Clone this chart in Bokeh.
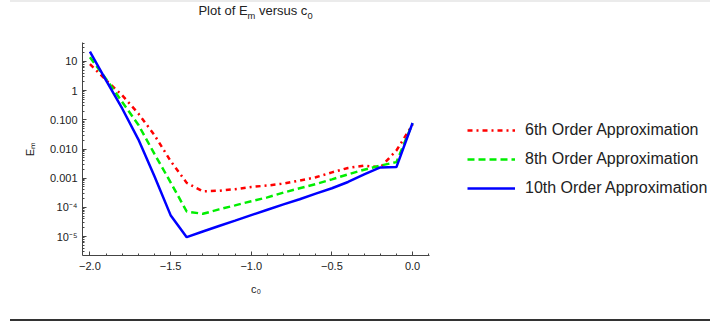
from bokeh.plotting import figure
from bokeh.layouts import column, row
from bokeh.models import (FixedTicker, CustomJSTickFormatter, Legend, LegendItem,
                          Range1d, Div)
from bokeh.embed import file_html
from bokeh.resources import INLINE

# ---- data ----
c0 = [-2.0, -1.9, -1.8, -1.7, -1.6, -1.5, -1.4, -1.3, -1.2, -1.1, -1.0,
      -0.9, -0.8, -0.7, -0.6, -0.5, -0.4, -0.3, -0.2, -0.1, 0.0]
em_6th = [8.1, 2.3, 0.69, 0.166, 0.030, 3.9e-3, 6.9e-4, 3.55e-4, 3.7e-4, 4.2e-4, 5.0e-4,
          5.6e-4, 6.5e-4, 8.3e-4, 1.07e-3, 1.58e-3, 2.24e-3, 2.7e-3, 2.34e-3, 8.9e-3, 0.069]
em_8th = [14.1, 2.5, 0.41, 0.068, 6.8e-3, 7.2e-4, 7.2e-5, 6.0e-5, 8.5e-5, 1.17e-4, 1.62e-4,
          2.2e-4, 3.2e-4, 4.5e-4, 6.3e-4, 9.1e-4, 1.35e-3, 1.95e-3, 2.7e-3, 3.55e-3, 0.076]
em_10th = [21.9, 2.24, 0.245, 0.0214, 1.17e-3, 5.4e-5, 9.5e-6, 1.48e-5, 2.3e-5, 3.5e-5, 5.4e-5,
           8.3e-5, 1.26e-4, 1.9e-4, 2.95e-4, 4.5e-4, 7.4e-4, 1.35e-3, 2.34e-3, 2.4e-3, 0.078]

series_names = ["6th Order Approximation", "8th Order Approximation", "10th Order Approximation"]
series_colors = ["#ff0000", "#00ee00", "#0000ff"]
series_dashes = ["5 4 2 4", "7 4", "solid"]
x_ticks = [-2.0, -1.5, -1.0, -0.5, 0.0]
x_tick_labels = ["\u22122.0", "\u22121.5", "\u22121.0", "\u22120.5", "0.0"]
y_ticks = [1e-5, 1e-4, 1e-3, 1e-2, 1e-1, 1.0, 10.0]
y_tick_labels = ["10\u207b\u2075", "10\u207b\u2074", "0.001", "0.010", "0.100", "1", "10"]
SUB = '<sub style="font-size:72%;line-height:0">'
title_html = f"Plot of E{SUB}m</sub> versus c{SUB}0</sub>"
x_label = "c\u2080"
y_label = "E\u2098"

FONT = "Liberation Sans"

p = figure(width=440, height=297,
           x_range=Range1d(-2.046, 0.105),
           y_range=Range1d(10 ** -5.651, 10 ** 1.651),
           y_axis_type="log",
           output_backend="svg", toolbar_location=None,
           min_border_left=82, min_border_right=11,
           min_border_top=20, min_border_bottom=64)
p.outline_line_color = None
p.grid.visible = False
p.background_fill_color = "white"
p.border_fill_color = "white"

series = [em_6th, em_8th, em_10th]
for vals, col, dash in zip(series, series_colors, series_dashes):
    p.line(c0, vals, line_color=col, line_width=2.5, line_dash=dash)

# x axis
x_minor = [round(-2.0 + 0.1 * k, 2) for k in range(0, 22)]
p.xaxis.ticker = FixedTicker(ticks=x_ticks, minor_ticks=x_minor)
p.xaxis.formatter = CustomJSTickFormatter(args=dict(tv=x_ticks, tl=x_tick_labels), code="""
for (let i = 0; i < tv.length; i++) { if (Math.abs(tick - tv[i]) < 1e-9) return tl[i]; }
return "";
""")
# y axis
y_minor = [m * 10.0 ** e for e in range(-6, 2) for m in range(1, 10)]
p.yaxis.ticker = FixedTicker(ticks=y_ticks, minor_ticks=y_minor)
p.yaxis.formatter = CustomJSTickFormatter(args=dict(tv=y_ticks, tl=y_tick_labels), code="""
for (let i = 0; i < tv.length; i++) { if (Math.abs(Math.log10(tick) - Math.log10(tv[i])) < 1e-6) return tl[i]; }
return "";
""")

for ax in (p.xaxis, p.yaxis):
    ax.axis_line_color = "#444444"
    ax.major_tick_line_color = "#444444"
    ax.minor_tick_line_color = "#444444"
    ax.major_tick_in = 4
    ax.major_tick_out = 0
    ax.minor_tick_in = 2
    ax.minor_tick_out = 0
    ax.major_label_text_font = FONT
    ax.major_label_text_font_size = "11px"
    ax.major_label_text_color = "#222222"
    ax.axis_label_text_font = FONT
    ax.axis_label_text_font_size = "11px"
    ax.axis_label_text_font_style = "normal"
    ax.axis_label_text_color = "#222222"

p.xaxis.axis_label = x_label
p.yaxis.axis_label = y_label
p.xaxis.major_label_standoff = 6
p.yaxis.major_label_standoff = 5
p.xaxis.axis_label_standoff = 10
p.yaxis.axis_label_standoff = 11

# legend panel (separate canvas to the right of the plot); the proxy lines carry the
# same series but lie outside this canvas's visible ranges, so only their legend shows
pl = figure(width=270, height=297, x_range=Range1d(5, 6), y_range=Range1d(5, 6),
            output_backend="svg", toolbar_location=None,
            x_axis_location=None, y_axis_location=None, min_border=0)
pl.outline_line_color = None
pl.grid.visible = False
items = []
for name, vals, col, dash in zip(series_names, series, series_colors, series_dashes):
    rr = pl.line(c0, vals, line_color=col, line_width=2.5, line_dash=dash)
    items.append(LegendItem(label=name, renderers=[rr]))
legend = Legend(items=items, location=(27, 57), glyph_width=48, glyph_height=20,
                label_height=20, spacing=9, padding=0, margin=0, label_standoff=10,
                border_line_color=None, background_fill_alpha=0,
                label_text_font=FONT, label_text_font_size="16px",
                label_text_color="#222222")
pl.add_layout(legend)

title_div = Div(text=title_html, width=347, height=20, margin=(0, 0, 0, 82),
                styles={"text-align": "center", "font-family": FONT, "font-size": "13px",
                        "line-height": "18px", "color": "#222222"})
top_shade = Div(text="", width=700, height=2, margin=(0, 0, 0, 10),
                styles={"background-color": "#ebebeb"})
bottom_rule = Div(text="", width=700, height=2, margin=(0, 0, 0, 10),
                  styles={"background-color": "#333333"})

layout = column(top_shade, title_div, row(p, pl, spacing=0), bottom_rule, spacing=0)
open("out.html", "w").write(file_html(layout, INLINE))
